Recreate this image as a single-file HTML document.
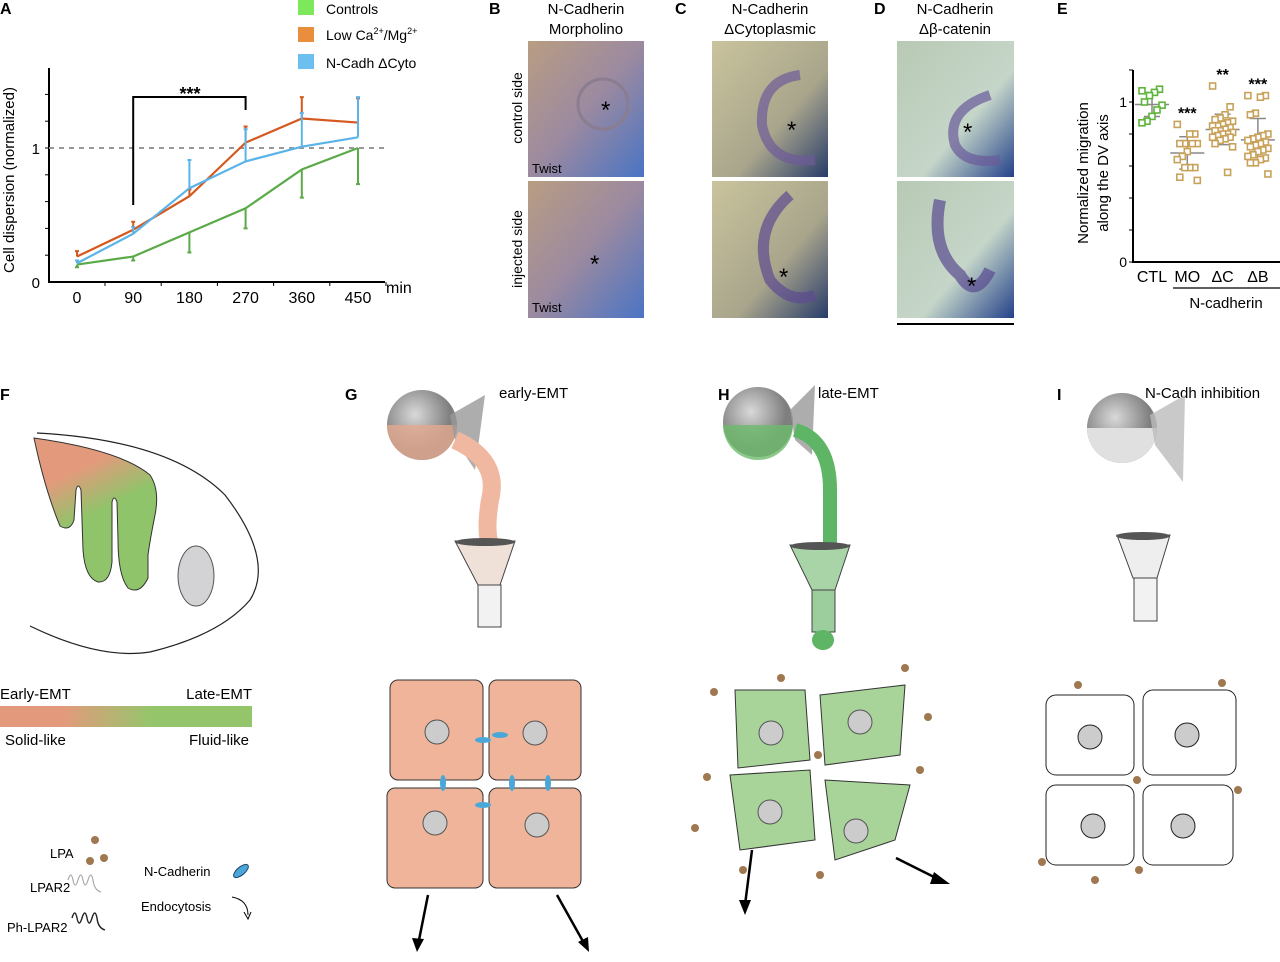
<!DOCTYPE html>
<html><head><meta charset="utf-8"><style>
body{margin:0;background:#fff;font-family:"Liberation Sans",sans-serif}
svg text{font-family:"Liberation Sans",sans-serif}
</style></head><body>
<svg id="fig" width="1280" height="957" viewBox="0 0 1280 957" xmlns="http://www.w3.org/2000/svg">
<defs>
<linearGradient id="fgrad" x1="0" y1="0" x2="0.4" y2="1"><stop offset="0.3" stop-color="#e39a7c"/><stop offset="0.6" stop-color="#8fc46a"/></linearGradient>
<linearGradient id="bar" x1="0" x2="1"><stop offset="0.25" stop-color="#e39a7c"/><stop offset="0.6" stop-color="#95c56b"/></linearGradient>
<radialGradient id="flask" cx="0.4" cy="0.35"><stop offset="0" stop-color="#d9d9d9"/><stop offset="1" stop-color="#7f7f7f"/></radialGradient>
<linearGradient id="photoB" x1="0" y1="0" x2="1" y2="1"><stop offset="0" stop-color="#b99d82"/><stop offset="0.5" stop-color="#9c8aa0"/><stop offset="1" stop-color="#4a74c4"/></linearGradient>
<linearGradient id="photoC" x1="0" y1="0" x2="1" y2="1"><stop offset="0" stop-color="#c9c49c"/><stop offset="0.6" stop-color="#a9a58c"/><stop offset="1" stop-color="#283c6a"/></linearGradient>
<linearGradient id="photoD" x1="0" y1="0" x2="1" y2="1"><stop offset="0" stop-color="#b8c9b4"/><stop offset="0.6" stop-color="#c5d6c9"/><stop offset="1" stop-color="#24418a"/></linearGradient>
</defs>

<!-- Panel A -->
<g id="chartA">
<text x="0" y="14" font-size="16" font-weight="bold">A</text>
<g>
<rect x="298" y="0" width="16" height="15" fill="#7de85a"/>
<text x="326" y="14" font-size="14">Controls</text>
<rect x="298" y="27" width="16" height="15" fill="#e88e3c"/>
<text x="326" y="40" font-size="14">Low Ca<tspan font-size="9" dy="-6">2+</tspan><tspan dy="6">/Mg</tspan><tspan font-size="9" dy="-6">2+</tspan></text>
<rect x="298" y="54" width="16" height="15" fill="#6cc0f0"/>
<text x="326" y="68" font-size="14">N-Cadh ΔCyto</text>
</g>
<text transform="translate(14,180) rotate(-90)" text-anchor="middle" font-size="15">Cell dispersion (normalized)</text>
<text x="386" y="293" font-size="16">min</text>
</g>

<!-- Panel E -->
<g id="chartE">
<text x="1057" y="14" font-size="16" font-weight="bold">E</text>
<text transform="translate(1088,173) rotate(-90)" text-anchor="middle" font-size="15">Normalized migration</text>
<text transform="translate(1108,173) rotate(-90)" text-anchor="middle" font-size="15">along the DV axis</text>
<line x1="1173" y1="288" x2="1280" y2="288" stroke="#000" stroke-width="1.2"/>
<text x="1226" y="308" text-anchor="middle" font-size="15">N-cadherin</text>
</g>

<!-- Photo panels -->
<g>
<text x="489" y="14" font-size="16" font-weight="bold">B</text>
<text x="586" y="14" text-anchor="middle" font-size="15">N-Cadherin</text>
<text x="586" y="34" text-anchor="middle" font-size="15">Morpholino</text>
<text transform="translate(522,108) rotate(-90)" text-anchor="middle" font-size="14">control side</text>
<text transform="translate(522,249) rotate(-90)" text-anchor="middle" font-size="14">injected side</text>
<rect x="528" y="41" width="116" height="136" fill="url(#photoB)"/>
<rect x="528" y="181" width="116" height="137" fill="url(#photoB)"/>
<circle cx="603" cy="104" r="25" fill="none" stroke="#8a7d8f" stroke-width="3"/>
<text x="601" y="118" font-size="24">*</text>
<text x="590" y="272" font-size="24">*</text>
<text x="532" y="173" font-size="13">Twist</text>
<text x="532" y="312" font-size="13">Twist</text>
</g>
<g>
<text x="675" y="14" font-size="16" font-weight="bold">C</text>
<text x="770" y="14" text-anchor="middle" font-size="15">N-Cadherin</text>
<text x="770" y="34" text-anchor="middle" font-size="15">ΔCytoplasmic</text>
<rect x="712" y="41" width="116" height="136" fill="url(#photoC)"/>
<rect x="712" y="181" width="116" height="137" fill="url(#photoC)"/>
<path d="M800 75 Q760 80 762 125 Q770 165 815 160" fill="none" stroke="#6d5a9a" stroke-width="10" opacity="0.7"/>
<path d="M790 195 Q750 230 770 280 Q790 305 815 295" fill="none" stroke="#5d4a90" stroke-width="11" opacity="0.7"/>
<text x="787" y="138" font-size="24">*</text>
<text x="779" y="285" font-size="24">*</text>
</g>
<g>
<text x="874" y="14" font-size="16" font-weight="bold">D</text>
<text x="955" y="14" text-anchor="middle" font-size="15">N-Cadherin</text>
<text x="955" y="34" text-anchor="middle" font-size="15">Δβ-catenin</text>
<rect x="897" y="41" width="117" height="136" fill="url(#photoD)"/>
<rect x="897" y="181" width="117" height="137" fill="url(#photoD)"/>
<path d="M990 95 Q945 110 955 145 Q965 165 1000 160" fill="none" stroke="#6a5a9a" stroke-width="10" opacity="0.7"/>
<path d="M940 200 Q930 250 960 275 Q975 300 990 270" fill="none" stroke="#5a4a90" stroke-width="12" opacity="0.7"/>
<text x="963" y="140" font-size="24">*</text>
<text x="967" y="294" font-size="24">*</text>
<line x1="897" y1="324" x2="1014" y2="324" stroke="#000" stroke-width="2"/>
</g>

<!-- Panel F -->
<g>
<text x="0" y="400" font-size="16" font-weight="bold">F</text>
<path d="M37 433 Q170 440 225 495 Q275 560 250 600 Q220 635 150 652 Q100 660 30 626" fill="none" stroke="#222" stroke-width="1.2"/>
<path d="M34 438 Q120 450 150 475 Q160 490 155 515 Q150 540 148 555 L148 578 Q140 595 128 588 Q118 575 118 540 L117 502 Q114 494 112 502 L112 562 Q110 583 98 582 Q85 578 83 550 L81 490 Q78 482 76 490 L74 520 Q70 532 60 526 Q45 490 34 438Z" fill="url(#fgrad)" stroke="#333" stroke-width="1"/>
<ellipse cx="196" cy="576" rx="18" ry="30" fill="#d3d3d5" stroke="#555"/>
<text x="0" y="699" font-size="15">Early-EMT</text>
<text x="252" y="699" text-anchor="end" font-size="15">Late-EMT</text>
<rect x="0" y="706" width="252" height="21" fill="url(#bar)"/>
<text x="5" y="745" font-size="15">Solid-like</text>
<text x="249" y="745" text-anchor="end" font-size="15">Fluid-like</text>
<g>
<text x="50" y="858" font-size="13">LPA</text>
<circle cx="95" cy="840" r="4" fill="#a07850"/><circle cx="104" cy="858" r="4" fill="#a07850"/><circle cx="90" cy="861" r="4" fill="#a07850"/>
<text x="30" y="892" font-size="13">LPAR2</text>
<path d="M68 880 q3 -10 5 0 t5 0 t5 0 t5 0 t5 0 q1 10 8 12" fill="none" stroke="#aaa" stroke-width="1.2"/>
<text x="7" y="932" font-size="13">Ph-LPAR2</text>
<path d="M72 918 q3 -10 5 0 t5 0 t5 0 t5 0 t5 0 q1 10 8 12" fill="none" stroke="#222" stroke-width="1.4"/>
<text x="144" y="876" font-size="13">N-Cadherin</text>
<ellipse cx="241" cy="871" rx="9" ry="4" transform="rotate(-40 241 871)" fill="#4aa8d8" stroke="#246"/>
<text x="141" y="911" font-size="13">Endocytosis</text>
<path d="M232 897 Q248 900 248 915" fill="none" stroke="#000"/><path d="M244 912 L248 919 L251 912" fill="none" stroke="#000"/>
</g>
</g>

<!-- Panels G H I -->
<g>
<text x="345" y="400" font-size="16" font-weight="bold">G</text>
<text x="499" y="398" font-size="15">early-EMT</text>
<circle cx="422" cy="425" r="35" fill="url(#flask)"/>
<path d="M387 425 A35 35 0 0 0 457 425Z" fill="#e4a98f" opacity="0.8"/>
<path d="M450 415 L485 395 L475 470 L455 440Z" fill="#999" opacity="0.8"/>
<path d="M455 440 Q500 460 490 500 Q485 530 490 545" stroke="#f0b8a0" stroke-width="18" fill="none"/>
<path d="M455 541 L515 541 L500 585 L478 585Z" fill="#efe0d8" stroke="#444"/>
<ellipse cx="485" cy="542" rx="30" ry="4" fill="#555"/>
<rect x="478" y="585" width="23" height="42" fill="#f2f2f2" stroke="#444"/>
<g>
<rect x="390" y="680" width="93" height="100" rx="8" fill="#f0b49a" stroke="#333"/>
<rect x="489" y="680" width="92" height="100" rx="8" fill="#f0b49a" stroke="#333"/>
<rect x="387" y="788" width="96" height="100" rx="8" fill="#f0b49a" stroke="#333"/>
<rect x="489" y="788" width="92" height="100" rx="8" fill="#f0b49a" stroke="#333"/>
<circle cx="437" cy="732" r="12" fill="#ccc" stroke="#555"/>
<circle cx="535" cy="733" r="12" fill="#ccc" stroke="#555"/><circle cx="435" cy="823" r="12" fill="#ccc" stroke="#555"/><circle cx="537" cy="825" r="12" fill="#ccc" stroke="#555"/>
<ellipse cx="483" cy="740" rx="8" ry="3" fill="#4aa8d8"/><ellipse cx="500" cy="735" rx="8" ry="3" fill="#4aa8d8"/>
<ellipse cx="443" cy="783" rx="3" ry="8" fill="#4aa8d8"/><ellipse cx="512" cy="783" rx="3" ry="8" fill="#4aa8d8"/><ellipse cx="548" cy="783" rx="3" ry="8" fill="#4aa8d8"/>
<ellipse cx="483" cy="805" rx="8" ry="3" fill="#4aa8d8"/>
</g>
<path d="M428 895 L418 945" stroke="#000" stroke-width="2.5"/><path d="M412 938 L417 952 L424 939Z" fill="#000"/>
<path d="M557 895 L585 945" stroke="#000" stroke-width="2.5"/><path d="M578 942 L589 952 L588 937Z" fill="#000"/>
</g>
<g>
<text x="718" y="400" font-size="16" font-weight="bold">H</text>
<text x="818" y="398" font-size="15">late-EMT</text>
<circle cx="758" cy="422" r="35" fill="url(#flask)"/>
<path d="M723 425 A35 35 0 0 0 793 425Z" fill="#6dbb6d" opacity="0.8"/>
<path d="M790 410 L815 385 L812 455 L795 440Z" fill="#999" opacity="0.8"/>
<path d="M795 430 Q830 440 830 490 L830 545" stroke="#5db565" stroke-width="14" fill="none"/>
<path d="M790 545 L850 545 L835 590 L812 590Z" fill="#a8d4a8" stroke="#444"/>
<ellipse cx="820" cy="546" rx="30" ry="4" fill="#555"/>
<rect x="812" y="590" width="23" height="42" fill="#9ccd9c" stroke="#444"/>
<ellipse cx="823" cy="640" rx="11" ry="10" fill="#5db565"/>
<g>
<path d="M735 690 L805 690 L810 760 L738 768Z" fill="#a8d49a" stroke="#333"/>
<path d="M820 695 L905 685 L900 755 L825 765Z" fill="#a8d49a" stroke="#333"/>
<path d="M730 775 L810 770 L815 840 L740 850Z" fill="#a8d49a" stroke="#333"/>
<path d="M825 780 L910 785 L895 840 L835 860Z" fill="#a8d49a" stroke="#333"/>
<circle cx="771" cy="733" r="12" fill="#ccc" stroke="#555"/><circle cx="860" cy="722" r="12" fill="#ccc" stroke="#555"/>
<circle cx="770" cy="812" r="12" fill="#ccc" stroke="#555"/><circle cx="856" cy="831" r="12" fill="#ccc" stroke="#555"/>
</g>
<g fill="#a07850"><circle cx="714" cy="692" r="4"/><circle cx="781" cy="678" r="4"/><circle cx="905" cy="668" r="4"/><circle cx="928" cy="717" r="4"/><circle cx="920" cy="770" r="4"/><circle cx="707" cy="777" r="4"/><circle cx="695" cy="828" r="4"/><circle cx="820" cy="875" r="4"/><circle cx="743" cy="870" r="4"/><circle cx="818" cy="755" r="4"/></g>
<path d="M752 850 L745 905" stroke="#000" stroke-width="2.5"/><path d="M739 900 L745 915 L751 900Z" fill="#000"/>
<path d="M896 858 L940 880" stroke="#000" stroke-width="2.5"/><path d="M934 872 L950 884 L930 884Z" fill="#000"/>
</g>
<g>
<text x="1057" y="400" font-size="16" font-weight="bold">I</text>
<text x="1145" y="398" font-size="15">N-Cadh inhibition</text>
<circle cx="1122" cy="428" r="35" fill="url(#flask)"/>
<path d="M1087 428 A35 35 0 0 0 1157 428Z" fill="#e0e0e0"/>
<path d="M1150 415 L1185 395 L1183 482 L1155 445Z" fill="#bbb" opacity="0.8"/>
<path d="M1117 535 L1170 535 L1157 578 L1133 578Z" fill="#eee" stroke="#444"/>
<ellipse cx="1143" cy="536" rx="27" ry="4" fill="#555"/>
<rect x="1134" y="578" width="23" height="43" fill="#f2f2f2" stroke="#444"/>
<g fill="#fff" stroke="#222">
<rect x="1046" y="695" width="88" height="80" rx="10"/><rect x="1143" y="690" width="93" height="85" rx="10"/>
<rect x="1046" y="785" width="88" height="80" rx="10"/><rect x="1143" y="785" width="90" height="80" rx="10"/>
<circle cx="1090" cy="737" r="12" fill="#ccc"/><circle cx="1187" cy="735" r="12" fill="#ccc"/><circle cx="1093" cy="826" r="12" fill="#ccc"/><circle cx="1183" cy="826" r="12" fill="#ccc"/>
</g>
<g fill="#a07850"><circle cx="1078" cy="685" r="4"/><circle cx="1222" cy="683" r="4"/><circle cx="1042" cy="862" r="4"/><circle cx="1095" cy="880" r="4"/><circle cx="1238" cy="790" r="4"/><circle cx="1137" cy="780" r="4"/><circle cx="1139" cy="870" r="4"/></g>
</g>
</svg>
<script>
// ---- Chart A data ----
const timesA = [0, 90, 180, 270, 360, 450];
const controlsVals = [0.13, 0.19, 0.37, 0.55, 0.84, 1.0];
const controlsErr = [0.02, 0.03, 0.15, 0.15, 0.21, 0.27];
const lowCaVals = [0.19, 0.39, 0.64, 1.04, 1.22, 1.19];
const lowCaErr = [0.04, 0.06, 0.05, 0.12, 0.16, 0.18];
const ncadhVals = [0.14, 0.36, 0.70, 0.90, 1.01, 1.08];
const ncadhErr = [0.02, 0.05, 0.21, 0.24, 0.25, 0.30];
const tickLabelsA = ["0", "90", "180", "270", "360", "450"];
// ---- Chart E data ----
const catsE = ["CTL", "MO", "ΔC", "ΔB"];
const ctlVals = [1.07,1.08,1.06,1.04,1.0,0.98,0.95,0.91,0.88,0.87];
const moVals = [0.86,0.8,0.8,0.74,0.74,0.74,0.74,0.69,0.66,0.64,0.59,0.59,0.59,0.53,0.51];
const dcVals = [1.1,0.97,0.92,0.9,0.89,0.88,0.87,0.86,0.85,0.85,0.84,0.83,0.82,0.82,0.81,0.8,0.8,0.79,0.78,0.78,0.77,0.76,0.74,0.72,0.56];
const dbVals = [1.04,1.04,1.03,0.93,0.92,0.8,0.79,0.78,0.77,0.76,0.75,0.74,0.73,0.72,0.71,0.70,0.69,0.67,0.66,0.65,0.64,0.62,0.62,0.55];
const sigE = ["", "***", "**", "***"];

const NS = "http://www.w3.org/2000/svg";
function mk(parent, tag, attrs){const e=document.createElementNS(NS,tag);for(const k in attrs)e.setAttribute(k,attrs[k]);parent.appendChild(e);return e;}

// Chart A
(function(){
 const g = document.getElementById('chartA');
 const xA = t => 77 + (t/450)*281;
 const yA = v => 282 - v*134;
 const ax = mk(g,'path',{d:`M49 68 V282 H385`,fill:'none',stroke:'#000','stroke-width':2});
 
 
 [0.2,0.4,0.6,0.8,1,1.2,1.4].forEach(v=>mk(g,'line',{x1:45,x2:49,y1:yA(v),y2:yA(v),stroke:'#000'}));
 const l0=mk(g,'text',{x:40,y:288,'text-anchor':'end','font-size':15});l0.textContent='0';
 
 
 const l1=mk(g,'text',{x:40,y:154,'text-anchor':'end','font-size':15});l1.textContent='1';
 
 
 const ref=mk(g,'line',{x1:49,x2:385,y1:yA(1),y2:yA(1),stroke:'#999','stroke-width':2,'stroke-dasharray':'5 5'});
 
 
 timesA.forEach((t,i)=>{
  mk(g,'line',{x1:xA(t)+28,x2:xA(t)+28,y1:282,y2:286,stroke:'#000'});
  const tl=mk(g,'text',{x:xA(t),y:303,'text-anchor':'middle','font-size':16});tl.textContent=tickLabelsA[i];
  
  
 });
 function series(vals, err, color, name, dir){
  vals.forEach((v,i)=>{
   const y2 = dir<0 ? yA(v-err[i]) : yA(v+err[i]);
   const eb=mk(g,'path',{d:`M${xA(timesA[i])} ${yA(v)} V${y2} M${xA(timesA[i])-2} ${y2} H${xA(timesA[i])+2}`,stroke:color,'stroke-width':2,fill:'none'});
   
   
  });
  const p=mk(g,'polyline',{points:vals.map((v,i)=>xA(timesA[i])+','+yA(v)).join(' '),fill:'none',stroke:color,'stroke-width':2.2});
  
  
 }
 series(controlsVals, controlsErr, '#5aaa48', 'controls', -1);
 series(lowCaVals, lowCaErr, '#d5581e', 'low-ca', 1);
 series(ncadhVals, ncadhErr, '#5ab4e8', 'ncadh', 1);
 const br=mk(g,'path',{d:`M${xA(90)} 205 V97 H${xA(270)} V110`,fill:'none',stroke:'#000','stroke-width':2});
 
 
 const st=mk(g,'text',{x:190,y:100,'text-anchor':'middle','font-size':18,'font-weight':'bold'});st.textContent='***';
 
 
})();

// Chart E
(function(){
 const g = document.getElementById('chartE');
 const yE = v => 262 - v*160;
 const xE = i => 1152 + i*35.3;
 const ax=mk(g,'path',{d:'M1133 70 V262 H1280',fill:'none',stroke:'#000','stroke-width':2});
 
 
 [0,0.2,0.4,0.6,0.8,1,1.2].forEach(v=>mk(g,'line',{x1:1129,x2:1133,y1:yE(v),y2:yE(v),stroke:'#000'}));
 [[0,'0'],[1,'1']].forEach(([v,s])=>{const t=mk(g,'text',{x:1127,y:yE(v)+5,'text-anchor':'end','font-size':14});t.textContent=s;
  
  });
 const groups=[ctlVals,moVals,dcVals,dbVals];
 groups.forEach((vals,gi)=>{
  const col = gi===0 ? '#5db53a' : '#c9a25a';
  const mean = vals.reduce((a,b)=>a+b,0)/vals.length;
  const sd = Math.sqrt(vals.reduce((a,b)=>a+(b-mean)**2,0)/vals.length);
  const cx = xE(gi);
  mk(g,'path',{d:`M${cx-17} ${yE(mean)} H${cx+17} M${cx-8} ${yE(mean+sd)} H${cx+8} M${cx-8} ${yE(mean-sd)} H${cx+8} M${cx} ${yE(mean+sd)} V${yE(mean-sd)}`,stroke:'#888','stroke-width':1.5,fill:'none'});
  vals.forEach((v,i)=>{
   const off = ((i*7)%9 - 4)*2.5;
   const r=mk(g,'rect',{x:cx+off-3,y:yE(v)-3,width:6,height:6,fill:'#fff',stroke:col,'stroke-width':1.6});
   
   
  });
  const lab=mk(g,'text',{x:cx,y:282,'text-anchor':'middle','font-size':16});lab.textContent=catsE[gi];
  
  
  if(sigE[gi]){const s=mk(g,'text',{x:cx,y:yE(Math.max(...vals))-6,'text-anchor':'middle','font-size':16,'font-weight':'bold'});s.textContent=sigE[gi];
   
   }
 });
})();
</script>
</body></html>
